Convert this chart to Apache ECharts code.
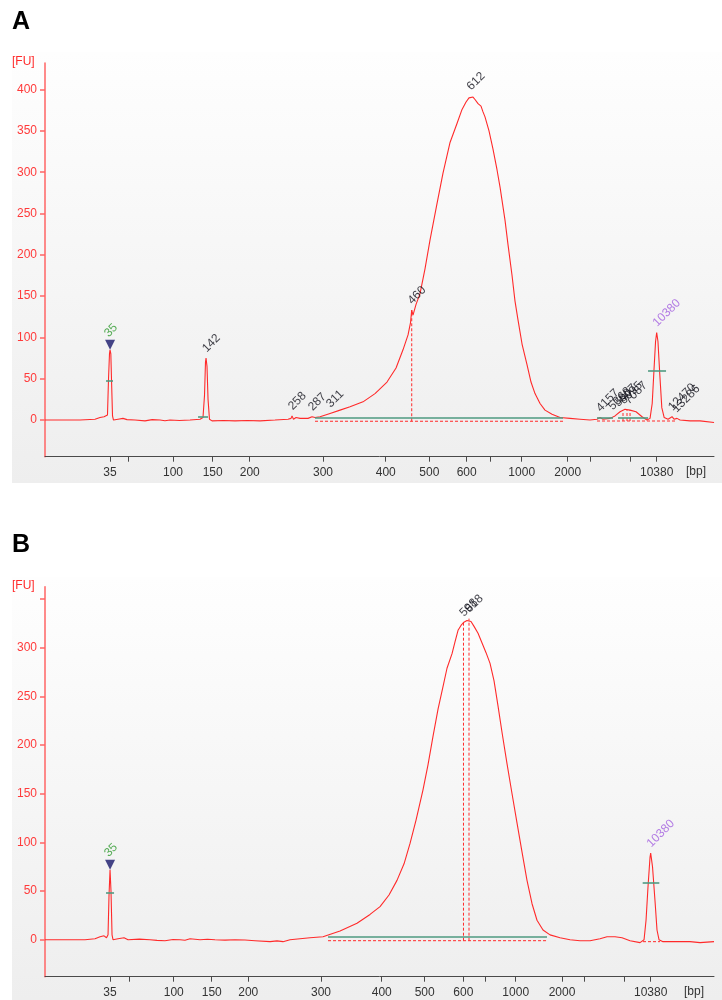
<!DOCTYPE html>
<html><head><meta charset="utf-8">
<script src="https://cdn.jsdelivr.net/npm/echarts@6/dist/echarts.min.js"></script>
<style>html,body{margin:0;padding:0;background:#fff}#c{width:722px;height:1000px}</style>
</head><body><div id="c"></div>
<script>
// ---------- DATA (x = migration time [s], y = fluorescence [FU]) ----------
const ladderBp = [35, 50, 100, 150, 200, 300, 400, 500, 600, 700, 1000, 2000, 3000, 7000, 10380];
const shownBp = [35, 100, 150, 200, 300, 400, 500, 600, 1000, 2000, 10380];
const ladderTimesA = [48.13, 50.46, 56.00, 60.96, 65.59, 74.75, 82.59, 88.04, 92.71, 95.63, 99.59, 105.34, 108.21, 113.21, 116.46];
const ladderTimesB = [48.13, 50.50, 56.09, 60.84, 65.41, 74.50, 82.09, 87.46, 92.29, 95.04, 98.84, 104.63, 107.38, 112.41, 115.71];
const fuTicksA = [0, 50, 100, 150, 200, 250, 300, 350, 400];
const fuTicksB = [0, 50, 100, 150, 200, 250, 300, 350];
const fuLabelsB = [0, 50, 100, 150, 200, 250, 300];

const traceA = [
[40.00,0],[44.38,0],[46.25,1],[46.88,3],[47.38,4],[47.63,2],[47.81,6],[47.94,50],[48.06,80],[48.13,85],[48.23,80],[48.31,50],[48.44,5],[48.56,0],
[49.13,1],[49.75,2],[50.25,0.5],[51.25,0],[52.50,-1],[53.4,0.5],[54.38,0],[55.0,-0.8],[55.63,0],[56.8,-0.5],[58.13,0],[59.38,1],[59.75,3],[59.94,30],[60.06,70],[60.13,75],
[60.25,65],[60.38,25],[60.56,1],[60.88,-1],[62.3,-0.5],[63.75,-1],[65.3,-0.6],[66.88,-1],[68.75,0],[70.38,1],[70.75,2],[70.88,5],[71.06,1],
[71.38,3],[71.88,2],[72.88,2],[73.38,4],[73.75,3],[74.38,4],[75.63,8],[76.88,12],[78.13,16],[79.75,22],[81.25,32],[82.75,46],
[83.88,63],[84.75,85],[85.38,103],[85.69,118],[85.84,133],[86.00,127],[86.38,140],[86.88,153],[87.50,183],[88.13,218],[89.00,262],
[89.75,299],[90.63,336],[91.50,359],[92.13,376],[92.63,385],[93.00,390],[93.21,392],[93.50,391],[93.75,388],[94.13,383],[94.50,380],
[94.75,373],[95.00,367],[95.50,350],[96.00,328],[96.50,303],[96.88,282],[97.50,242],[97.88,212],[98.38,175],[98.75,144],[99.13,121],
[99.63,92],[100.25,67],[100.75,46],[101.25,32],[101.88,20],[102.50,12],[103.38,7],[104.38,3],[105.63,2],[106.88,1],[108.13,0],
[109.00,1],[109.38,3],[109.75,1],[110.63,2],[111.25,5],[111.88,10],[112.50,13],[113.13,12],[113.88,10],[114.63,4],[115.25,0],
[115.63,2],[115.90,20],[116.12,60],[116.32,95],[116.46,106],[116.62,95],[116.85,55],[117.10,15],[117.40,3],[117.88,1],[118.38,4],
[118.63,1],[119.00,2],[119.38,0],[120.63,-1],[121.88,-1],[123.63,-3]
];
const traceB = [
[40.00,0],[45.00,0],[46.25,1],[46.88,3],[47.38,4],[47.69,2],[47.88,5],[48.00,45],[48.13,72],[48.25,50],[48.38,5],[48.50,0],
[49.13,1],[49.88,2],[50.38,0],[51.8,0.6],[53.13,0],[54.0,-0.7],[55.00,-1],[56.0,0.3],[56.88,0],[57.5,-0.6],[58.13,1],[59.38,0],[60.3,0.5],[61.25,0],[62.5,-0.4],[63.75,0],
[65.0,-0.3],[66.25,-1],[68.13,-2],[69.0,-1.2],[69.75,-2],[70.63,0],[71.88,1],[73.13,2],[74.75,3],[76.88,9],[79.00,17],[80.63,26],
[81.88,34],[83.00,46],[84.00,61],[84.88,78],[85.63,99],[86.38,123],[87.25,154],[87.88,180],[88.50,209],[89.13,237],[89.75,260],
[90.25,279],[90.88,294],[91.25,306],[91.63,318],[92.00,323],[92.31,326],[92.56,325],[92.75,328],[93.00,330],[93.25,327],[93.63,322],
[94.13,315],[94.63,305],[95.13,295],[95.63,284],[96.13,266],[96.63,240],[97.13,213],[97.75,181],[98.38,150],[99.00,120],[99.63,90],
[100.25,61],[100.88,37],[101.50,20],[102.25,10],[103.13,5],[104.38,2],[105.63,0],[106.88,-1],[108.13,-1],[109.38,1],[110.25,3],
[111.25,3],[112.13,2],[113.13,-1],[114.38,-3],[114.88,0],[115.13,20],[115.38,55],[115.63,85],[115.71,89],[115.94,75],[116.25,40],
[116.50,10],[116.75,0],[117.25,-2],[118.75,-2],[120.63,-2],[121.88,-3],[123.63,-2]
];

const peakNamesA = ['35','142','258','287','311','460','612','4157','5368','5807','6095','7087','10380','12470','13286'];
const peakTimesA = [48.13, 60.13, 70.88, 73.38, 75.63, 85.84, 93.21, 109.38, 110.9, 111.6, 112.3, 112.9, 116.46, 118.38, 118.9];
const peakFUA = [85, 75, 5, 4, 8, 133, 392, 3, 5, 9, 12, 12, 106, 4, 2];
const peakNamesB = ['35','598','618','10380'];
const peakTimesB = [48.13, 92.31, 93.00, 115.71];
const peakFUB = [72, 326, 330, 89];

// [start time, end time, FU] baselines / half-height markers
const greenA = [[47.63,48.50,47.6],[59.13,60.38,4],[73.75,104.75,3],[109.0,111.0,3],[111.63,115.38,3],[115.38,117.63,60]];
const greenB = [[47.63,48.63,48],[75.38,102.75,3],[114.71,116.79,59]];
// dashed peak/region boundaries: horizontal [t1, t2, FU], vertical [t, FU1, FU2]
const dashHA = [[73.75,105.0,-1.5],[109.0,119.0,-1.2]];
const dashVA = [[85.84,-1.5,133],[112.25,-1.2,11],[112.75,-1.2,12],[113.13,-1.2,12]];
const dashHB = [[75.38,102.75,-1],[114.75,116.88,-2]];
const dashVB = [[92.31,-1,326],[93.00,-1,330]];

// ---------- CHART ----------
const FONT = 'Liberation Sans';
const RED = '#ff2a2a';
const chart = echarts.init(document.getElementById('c'), null, {renderer:'canvas'});

function labelFor(ticks) {
  return v => { const i = ticks.findIndex(t => Math.abs(t - v) < 1e-6); return i >= 0 ? String(ladderBp[i]) : ''; };
}
function shownTicks(ticks) { return ticks.filter((t, i) => shownBp.includes(ladderBp[i])); }

function xAxisFor(gi, ticks) {
  return {
    gridIndex: gi, type: 'value', min: 40, max: 123.625,
    axisLine: {show: true, onZero: false, lineStyle: {color: '#4a4a4a', width: 1}},
    axisTick: {show: true, length: 5, customValues: ticks, lineStyle: {color: '#4a4a4a'}},
    axisLabel: {customValues: shownTicks(ticks), formatter: labelFor(ticks), color: '#333', fontSize: 12, fontFamily: FONT, margin: 10},
    splitLine: {show: false}
  };
}
function yAxisFor(gi, min, max, ticks, labels) {
  return {
    gridIndex: gi, type: 'value', min: min, max: max,
    axisLine: {show: true, onZero: false, lineStyle: {color: '#ff6464', width: 1.5}},
    axisTick: {show: true, length: 5, customValues: ticks, lineStyle: {color: '#ff6464', width: 1.5}},
    axisLabel: {customValues: labels, color: '#ff3a3a', fontSize: 12, fontFamily: FONT, margin: 8},
    splitLine: {show: false}
  };
}
function greenLines(green) {
  const d = [];
  green.forEach(([a, b, y]) => d.push([{coord: [a, y]}, {coord: [b, y]}]));
  return {silent: true, symbol: ['none', 'none'], label: {show: false}, animation: false,
    lineStyle: {color: '#4e9a80', type: 'solid', width: 1.6}, emphasis: {disabled: true}, data: d};
}
function segSeries(gi, pts) {
  return {
    type: 'line', xAxisIndex: gi, yAxisIndex: gi, data: pts, showSymbol: false, symbol: 'none', silent: true,
    color: RED, lineStyle: {color: RED, width: 1, type: [3, 2]}, z: 2
  };
}
function dashSeries(gi, dh, dv) {
  const s = [];
  dh.forEach(([a, b, y]) => s.push(segSeries(gi, [[a, y], [b, y]])));
  dv.forEach(([t, y1, y2]) => s.push(segSeries(gi, [[t, y1], [t, y2]])));
  return s;
}
function peakLabels(gi, names, times, fus) {
  return {
    type: 'scatter', xAxisIndex: gi, yAxisIndex: gi, symbolSize: 1, itemStyle: {color: 'rgba(0,0,0,0)'}, z: 5,
    data: names.map((n, i) => ({
      value: [times[i], fus[i]], name: n,
      label: {
        color: n === '35' ? '#2e9a2e' : (n === '10380' ? '#a35ee0' : '#0e0e18'),
        position: n === '35' ? [1, -10] : [3, -3]
      }
    })),
    label: {show: true, formatter: '{b}', rotate: 45, align: 'left', verticalAlign: 'bottom', fontSize: 12, fontFamily: FONT}
  };
}
function triangles(gi, times, fus, names) {
  const i = names.indexOf('35');
  return {
    type: 'scatter', xAxisIndex: gi, yAxisIndex: gi, symbol: 'triangle', symbolRotate: 180,
    symbolSize: [10, 10], symbolOffset: [0, -5], itemStyle: {color: '#16166a'}, z: 6,
    data: [[times[i], fus[i]]]
  };
}
function trace(gi, data, ml) {
  return {
    type: 'line', xAxisIndex: gi, yAxisIndex: gi, data: data, showSymbol: false, symbol: 'none', color: RED,
    lineStyle: {color: RED, width: 1.1}, z: 3, markLine: ml
  };
}

const bg = (y, h) => ({
  type: 'rect', left: 12, top: y, z: -10, silent: true,
  shape: {width: 710, height: h},
  style: {fill: new echarts.graphic.LinearGradient(0, 0, 0, 1, [{offset: 0, color: '#fefefe'}, {offset: 1, color: '#eeeeee'}])}
});
const txt = (x, y, s, font, color) => ({type: 'text', left: x, top: y, z: 10, silent: true, style: {text: s, font: font, fill: color}});

chart.setOption({
  animation: false,
  backgroundColor: '#ffffff',
  grid: [
    {left: 45, top: 63, width: 669, height: 393.7},
    {left: 45, top: 586.7, width: 669, height: 390}
  ],
  xAxis: [xAxisFor(0, ladderTimesA), xAxisFor(1, ladderTimesB)],
  yAxis: [yAxisFor(0, -44.4, 432.2, fuTicksA, fuTicksA), yAxisFor(1, -38, 362.8, fuTicksB, fuLabelsB)],
  graphic: [
    bg(52, 431), bg(577, 423),
    txt(12, 10, 'A', 'bold 25px "Liberation Sans"', '#000'),
    txt(12, 533, 'B', 'bold 25px "Liberation Sans"', '#000'),
    txt(12, 56, '[FU]', '12px "Liberation Sans"', '#ff2a2a'),
    txt(12, 580, '[FU]', '12px "Liberation Sans"', '#ff2a2a'),
    txt(686, 466, '[bp]', '12px "Liberation Sans"', '#333'),
    txt(684, 986, '[bp]', '12px "Liberation Sans"', '#333')
  ],
  series: [
    trace(0, traceA, greenLines(greenA)),
    trace(1, traceB, greenLines(greenB)),
    ...dashSeries(0, dashHA, dashVA),
    ...dashSeries(1, dashHB, dashVB),
    triangles(0, peakTimesA, peakFUA, peakNamesA),
    triangles(1, peakTimesB, peakFUB, peakNamesB),
    peakLabels(0, peakNamesA, peakTimesA, peakFUA),
    peakLabels(1, peakNamesB, peakTimesB, peakFUB)
  ]
});
</script></body></html>
